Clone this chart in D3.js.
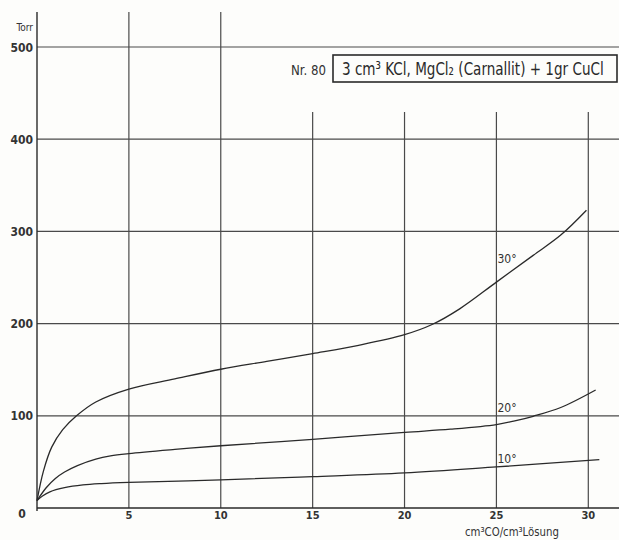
<!DOCTYPE html>
<html><head><meta charset="utf-8">
<script src="https://cdn.jsdelivr.net/npm/d3@7"></script>
<style>html,body{margin:0;padding:0;background:#fdfdfb;}svg{display:block;}</style>
</head><body>
<script>
// ---- data ----
const xTicks = [5, 10, 15, 20, 25, 30];
const yTicks = [100, 200, 300, 400, 500];
const x30 = [0, 0.35, 0.8, 1.4, 2.15, 3.2, 5, 7.5, 10, 12.5, 15, 17.5, 20, 21.5, 23, 25, 27, 28.5, 29.9];
const y30 = [8, 40, 66, 85, 100, 115, 129, 140, 150.5, 159, 167.5, 176.5, 188, 199, 216, 245, 274, 296, 323];
const x20 = [0, 0.5, 1, 1.5, 2.2, 3.2, 4, 5, 7.5, 10, 15, 20, 22.5, 25, 26, 27, 28.5, 30.4];
const y20 = [8, 22, 32, 39, 46, 53, 56.5, 59, 63.5, 67.5, 74.5, 82, 85.5, 90.5, 94.5, 99.5, 109, 128];
const x10 = [0, 0.3, 0.7, 1.5, 2.5, 3.5, 5, 10, 15, 20, 25, 30.6];
const y10 = [8, 13, 17.5, 22, 25, 26.5, 27.8, 30.5, 34, 38, 44.5, 52.5];
const seriesLabels = ["30°", "20°", "10°"];
const labelAt = [[25, 265.5], [25, 104], [25, 49]];

const W = 619, H = 540;
const svg = d3.select("body").append("svg").attr("width", W).attr("height", H)
  .style("background", "#fdfdfb");
const x = d3.scaleLinear().domain([0, 30]).range([37, 588.3]);
const y = d3.scaleLinear().domain([0, 500]).range([508, 47]);
const ink = "#2a2a2a", grid = "#4a4a4a";
const font = "'DejaVu Sans Condensed','DejaVu Sans',sans-serif";

// fit a text to a given width by horizontal scaling (keeps true bbox)
function fitText(sel, x0, yb, width) {
  const w = sel.node().getComputedTextLength();
  const k = width / w;
  sel.attr("x", 0).attr("y", 0).attr("transform", `translate(${x0},${yb}) scale(${k},1)`);
}

// grid horizontal
svg.selectAll("line.h").data(yTicks).enter().append("line")
  .attr("x1", x(0)).attr("x2", 619).attr("y1", d => y(d)).attr("y2", d => y(d))
  .attr("stroke", grid).attr("stroke-width", 1.2);
// grid vertical
svg.selectAll("line.v").data(xTicks).enter().append("line")
  .attr("x1", d => x(d)).attr("x2", d => x(d))
  .attr("y1", d => d <= 10 ? 12 : 112).attr("y2", y(0))
  .attr("stroke", grid).attr("stroke-width", 1.2);
// axes
svg.append("line").attr("x1", x(0)).attr("x2", x(0)).attr("y1", 12).attr("y2", y(0) + 3)
  .attr("stroke", ink).attr("stroke-width", 1.4);
svg.append("line").attr("x1", x(0)).attr("x2", 619).attr("y1", y(0)).attr("y2", y(0))
  .attr("stroke", ink).attr("stroke-width", 1.4);

// y tick labels
svg.selectAll("text.yl").data(yTicks).enter().append("text")
  .attr("x", 33).attr("y", d => y(d) + 4.5).attr("text-anchor", "end")
  .attr("font-family", font).attr("font-size", 12).attr("font-weight", "bold").attr("fill", "#333")
  .text(d => d);
svg.append("text").attr("x", 22).attr("y", 518).attr("text-anchor", "middle")
  .attr("font-family", font).attr("font-size", 12).attr("font-weight", "bold").attr("fill", "#333").text("0");
svg.append("text").attr("x", 33).attr("y", 31).attr("text-anchor", "end")
  .attr("font-family", font).attr("font-size", 10).attr("fill", "#333").text("Torr");
// x tick labels
svg.selectAll("text.xl").data(xTicks).enter().append("text")
  .attr("x", d => x(d)).attr("y", 519).attr("text-anchor", "middle")
  .attr("font-family", font).attr("font-size", 11).attr("font-weight", "bold").attr("fill", "#333")
  .text(d => d);
fitText(svg.append("text").attr("font-family", font).attr("font-size", 12).attr("fill", "#333")
  .text("cm³CO/cm³Lösung"), 465, 536, 94);

// title
fitText(svg.append("text").attr("font-family", font).attr("font-size", 14).attr("fill", "#333")
  .text("Nr. 80"), 291, 75, 35);
svg.append("rect").attr("x", 333).attr("y", 55).attr("width", 284).attr("height", 27)
  .attr("fill", "none").attr("stroke", ink).attr("stroke-width", 1.6);
fitText(svg.append("text").attr("font-family", font).attr("font-size", 18).attr("fill", "#2a2a2a")
  .text("3 cm³ KCl, MgCl₂ (Carnallit) + 1gr CuCl"), 342, 75, 262);

// curves
const line = d3.line().x(d => x(d[0])).y(d => y(d[1])).curve(d3.curveCatmullRom.alpha(0.5));
const series = [d3.zip(x30, y30), d3.zip(x20, y20), d3.zip(x10, y10)];
svg.selectAll("path.c").data(series).enter().append("path")
  .attr("d", line).attr("fill", "none").attr("stroke", ink).attr("stroke-width", 1.3);
// curve labels
svg.selectAll("text.cl").data(seriesLabels).enter().append("text")
  .attr("x", (d, i) => x(labelAt[i][0]) + 1).attr("y", (d, i) => y(labelAt[i][1]))
  .attr("font-family", font).attr("font-size", 12).attr("fill", "#333").text(d => d);
</script>
</body></html>
